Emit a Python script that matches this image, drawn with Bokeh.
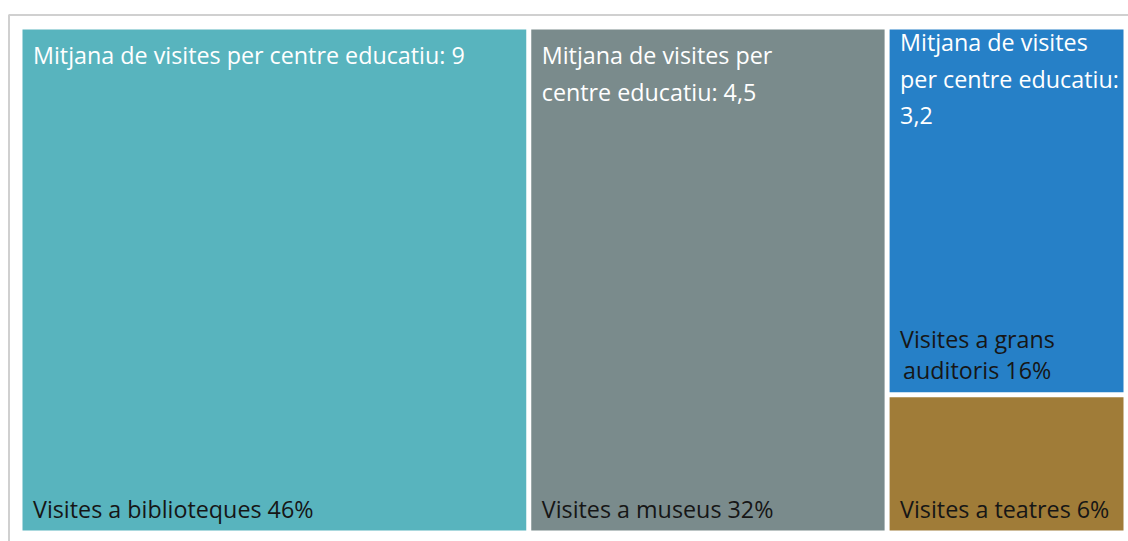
import textwrap
from bokeh.plotting import figure
from bokeh.models import Range1d, ColumnDataSource
from bokeh.core.properties import value
from bokeh.embed import file_html
from bokeh.resources import INLINE

# ---------------- data ----------------
categories = ["Visites a biblioteques", "Visites a museus",
              "Visites a grans auditoris", "Visites a teatres"]
shares = [46.0, 32.4, 15.7, 5.9]          # share of visits (%), as drawn
pct_labels = ["46%", "32%", "16%", "6%"]   # as printed
mean_visits = ["9", "4,5", "3,2", None]    # mitjana de visites per centre educatiu

# ---------------- style ----------------
colors = ["#58B4BE", "#7A8B8C", "#2680C7", "#A07C38"]
top_wrap = [45, 22, 20, 20]
bottom_wrap = [40, 40, 16, 40]
top_offset = [25, 25, 12, 25]
W, H = 1128, 541
X0, Y0, X1, Y1 = 19.5, 26.5, 1125.5, 532.5
GAP = 2.5


def worst(row, side):
    s = sum(row)
    return max(max(side * side * r / (s * s), s * s / (side * side * r)) for r in row)


def layout_row(row, x, y, w, h):
    s = sum(row)
    out = []
    if w >= h:
        cw = s / h
        cy = y
        for r in row:
            rh = r / cw
            out.append((x, cy, cw, rh))
            cy += rh
        return out, (x + cw, y, w - cw, h)
    rh = s / w
    cx = x
    for r in row:
        rw = r / rh
        out.append((cx, y, rw, rh))
        cx += rw
    return out, (x, y + rh, w, h - rh)


def squarify(vals, x, y, w, h):
    tot = sum(vals)
    areas = [v / tot * w * h for v in vals]
    rects = []
    i = 0
    while i < len(areas):
        side = min(w, h)
        row = [areas[i]]
        i += 1
        while i < len(areas) and worst(row + [areas[i]], side) <= worst(row, side):
            row.append(areas[i])
            i += 1
        r, (x, y, w, h) = layout_row(row, x, y, w, h)
        rects += r
    return rects


rects = squarify(shares, X0, Y0, X1 - X0, Y1 - Y0)

p = figure(width=W, height=H, output_backend="svg", toolbar_location=None,
           x_range=Range1d(0, W), y_range=Range1d(H, 0),
           min_border=0, outline_line_color=None)
p.axis.visible = False
p.grid.visible = False
p.background_fill_color = "white"
p.border_fill_color = "white"

# frame
p.segment(x0=[8, 8.5], y0=[14.5, 14.5], x1=[W, 8.5], y1=[14.5, H], line_color="#D0D0D0", line_width=2)

src = ColumnDataSource(dict(
    left=[r[0] + GAP for r in rects],
    right=[r[0] + r[2] - GAP for r in rects],
    top=[r[1] + GAP for r in rects],
    bottom=[r[1] + r[3] - GAP for r in rects],
    color=colors,
    cat=categories,
))
p.quad(left="left", right="right", top="top", bottom="bottom", fill_color="color",
       line_color=None, source=src)

tx, ty, tt = [], [], []
bx, by, bt = [], [], []
for i, (cx, cy, cw, ch) in enumerate(rects):
    left = cx + GAP + 10.5
    if mean_visits[i] is not None:
        txt = f"Mitjana de visites per centre educatiu: {mean_visits[i]}"
        for k, line in enumerate(textwrap.wrap(txt, top_wrap[i])):
            tx.append(left)
            ty.append(cy + GAP + top_offset[i] + k * 37)
            tt.append(line)
    lines = textwrap.wrap(f"{categories[i]} {pct_labels[i]}", bottom_wrap[i])
    n = len(lines)
    for k, line in enumerate(lines):
        bx.append(left + (3 if k > 0 else 0))
        by.append(cy + ch - GAP - 22 - (n - 1 - k) * 31)
        bt.append(line)

p.text(x=tx, y=ty, text=tt, text_color="white", text_font=value("Open Sans"),
       text_font_size="23.3px", text_baseline="alphabetic", text_align="left")
p.text(x=bx, y=by, text=bt, text_color="#161616", text_font=value("Open Sans"),
       text_font_size="23.3px", text_baseline="alphabetic", text_align="left")

open("out.html", "w").write(file_html(p, INLINE))
